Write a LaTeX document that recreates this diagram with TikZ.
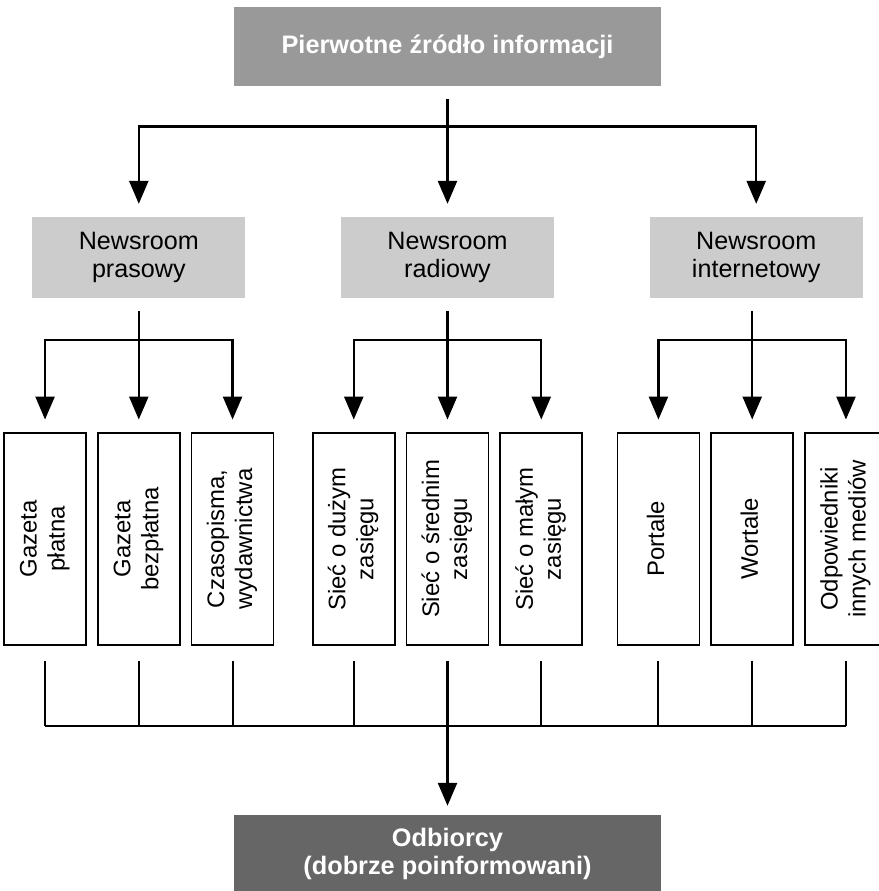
\documentclass[tikz,border=0pt]{standalone}
\usepackage{fontspec}
\setmainfont{Liberation Sans}
\usepackage{graphicx}
\usetikzlibrary{positioning,arrows.meta}
\newcommand{\vtext}[1]{\rotatebox{90}{\begin{tabular}{@{}c@{}}#1\end{tabular}}}
\definecolor{srcgray}{HTML}{999999}
\definecolor{roomgray}{HTML}{CCCCCC}
\definecolor{endgray}{HTML}{666666}

\begin{document}
\begin{tikzpicture}[
  >={Triangle[length=4.6mm,width=3.8mm]},
  font=\fontsize{14.3}{15.9}\selectfont,
  source/.style  ={fill=srcgray,text=white,font=\fontsize{14.4}{15.9}\selectfont\bfseries,
                    align=center,minimum width=85.4mm,minimum height=15.8mm,inner sep=0pt},
  room/.style    ={fill=roomgray,align=center,minimum width=42.6mm,
                    minimum height=16.2mm,inner sep=0pt},
  outlet/.style  ={draw,line width=1pt,minimum width=16.4mm,minimum height=42.4mm,
                    inner sep=0pt,font=\fontsize{13.6}{15.9}\selectfont},
  target/.style  ={fill=endgray,text=white,font=\fontsize{14.4}{15.9}\selectfont\bfseries,
                    align=center,minimum width=85.4mm,minimum height=15.4mm,inner sep=0pt},
  link/.style    ={->,line width=1.4pt,shorten <=2.6mm,shorten >=2.5mm},
  bus/.style     ={line width=1.1pt},
  node distance  =19mm and 2mm]

\useasboundingbox (0,0) rectangle (175.6mm,-178.2mm);

% --- source ---
\node[source] (src) at (89.5mm,-9.3mm) {Pierwotne źródło informacji};

% --- three newsrooms ---
\node[room,below=26mm of src]  (radio)    {Newsroom\\radiowy};
\node[room,left=19mm of radio]      (prasowy)  {Newsroom\\prasowy};
\node[room,right=19mm of radio]     (internet) {Newsroom\\internetowy};

\draw[link] (src.south) -- ++(0,-8mm) -| (prasowy.north);
\draw[link] (src.south) -- (radio.north);
\draw[link] (src.south) -- ++(0,-8mm) -| (internet.north);

% --- press outlets ---
\node[outlet,below=26.8mm of prasowy] (gbezpl) {\vtext{Gazeta\\bezpłatna}};
\node[outlet,left=of gbezpl]          (gplatna) {\vtext{Gazeta\\płatna}};
\node[outlet,right=of gbezpl]         (czasop) {\vtext{Czasopisma,\\wydawnictwa}};

% --- radio outlets ---
\node[outlet,below=26.8mm of radio]   (srednie) {\vtext{Sieć o średnim\\zasięgu}};
\node[outlet,left=of srednie]         (duze) {\vtext{Sieć o dużym\\zasięgu}};
\node[outlet,right=of srednie]        (male) {\vtext{Sieć o małym\\zasięgu}};

% --- internet outlets ---
\node[outlet,below=26.8mm of internet,xshift=-0.8mm] (wortale) {\vtext{Wortale}};
\node[outlet,left=of wortale]         (portale) {\vtext{Portale}};
\node[outlet,right=of wortale]        (odpow) {\vtext{Odpowiedniki\\innych mediów}};

\draw[link] (prasowy.south) -- ++(0,-8.4mm) -| (gplatna.north);
\draw[link] (prasowy.south) -- (gbezpl.north);
\draw[link] (prasowy.south) -- ++(0,-8.4mm) -| (czasop.north);

\draw[link] (radio.south) -- ++(0,-8.4mm) -| (duze.north);
\draw[link] (radio.south) -- (srednie.north);
\draw[link] (radio.south) -- ++(0,-8.4mm) -| (male.north);

\draw[link] (wortale.north |- internet.south) -- ++(0,-8.4mm) -| (portale.north);
\draw[link] (wortale.north |- internet.south) -- (wortale.north);
\draw[link] (wortale.north |- internet.south) -- ++(0,-8.4mm) -| (odpow.north);

% --- receivers ---
\node[target,below=33.8mm of srednie] (odbiorcy) {Odbiorcy\\(dobrze poinformowani)};

\draw[bus] ([yshift=-3mm]gplatna.south) -- ++(0,-13mm);
\draw[bus] ([yshift=-3mm]gbezpl.south)  -- ++(0,-13mm);
\draw[bus] ([yshift=-3mm]czasop.south)  -- ++(0,-13mm);
\draw[bus] ([yshift=-3mm]duze.south)    -- ++(0,-13mm);
\draw[bus] ([yshift=-3mm]male.south)    -- ++(0,-13mm);
\draw[bus] ([yshift=-3mm]portale.south) -- ++(0,-13mm);
\draw[bus] ([yshift=-3mm]wortale.south) -- ++(0,-13mm);
\draw[bus] ([yshift=-3mm]odpow.south)   -- ++(0,-13mm);
\draw[bus,line width=1.4pt] ([yshift=-16mm]gplatna.south) -- ([yshift=-16mm]odpow.south);

\draw[link,shorten <=3mm,shorten >=1.8mm] (srednie.south) -- (odbiorcy.north);

\end{tikzpicture}
\end{document}
